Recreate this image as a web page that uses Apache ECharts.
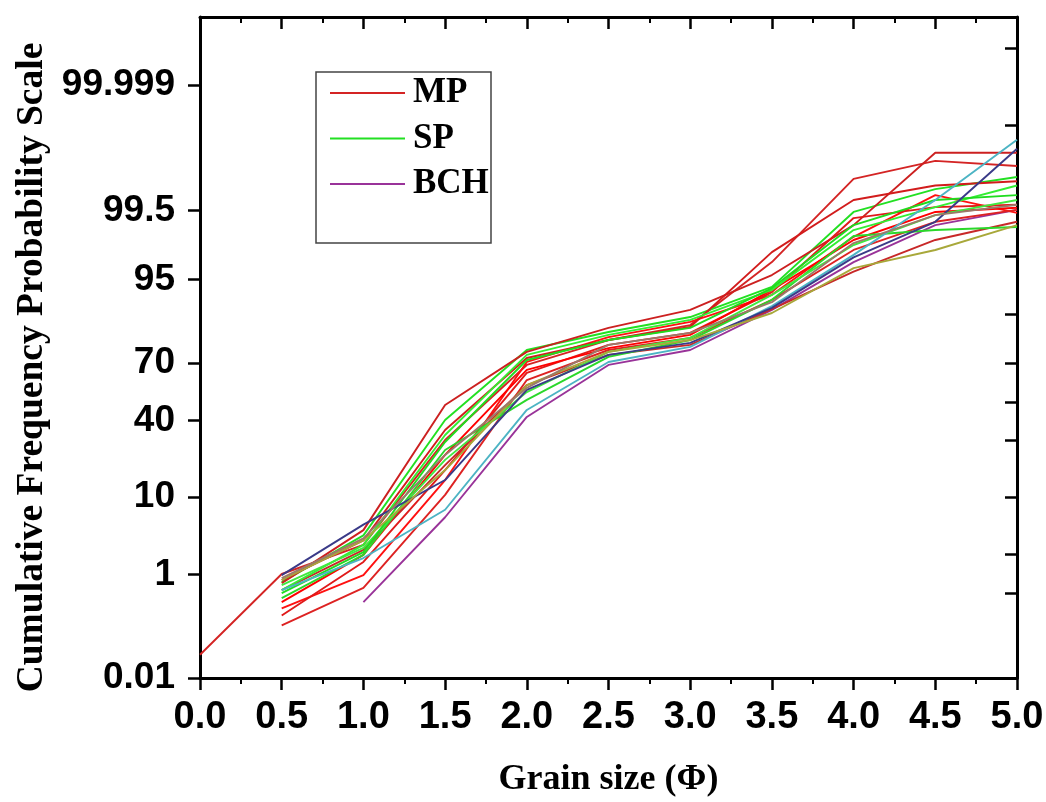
<!DOCTYPE html>
<html><head><meta charset="utf-8">
<script src="https://cdn.jsdelivr.net/npm/echarts@6/dist/echarts.min.js"></script>
<style>html,body{margin:0;padding:0;background:#fff}#chart{width:1046px;height:802px}</style>
</head><body><div id="chart"></div>
<script>
// ---------- data (cumulative percent) ----------
const phi = [0.0, 0.5, 1.0, 1.5, 2.0, 2.5, 3.0, 3.5, 4.0, 4.5, 5.0];

const mp1 = [0.033, 1.02, 2.7, 30.3, 69.0, 79.7, 84.9, 97.0, 99.865, 99.941, 99.925];
const mp2 = [null, 0.73, 4.2, 48.3, 74.9, 84.0, 89.2, 95.6, 99.13, 99.960, 99.960];
const mp3 = [null, 0.27, 0.98, 14.6, 70.4, 80.8, 85.9, 92.5, 98.68, 99.73, 99.45];
const mp4 = [null, 0.20, 1.55, 17.9, 65.1, 77.8, 82.3, 93.0, 99.33, 99.56, 99.60];
const mp5 = [null, 0.13, 0.61, 10.5, 61.5, 75.7, 80.5, 91.5, 97.95, 99.23, 99.51];
const mp6 = [null, 0.35, 1.96, 23.7, 66.6, 76.5, 81.6, 93.4, 98.53, 99.47, 99.55];
const mp7 = [null, 0.56, 2.3, 19.7, 58.9, 73.6, 77.8, 89.4, 96.0, 98.53, 99.23];
const mp8 = [null, 0.82, 3.1, 35.2, 72.2, 79.7, 84.3, 97.8, 99.67, 99.82, 99.85];

const sp1 = [null, 0.76, 3.6, 40.3, 75.7, 82.6, 87.3, 93.9, 99.47, 99.79, 99.876];
const sp2 = [null, 0.56, 2.7, 32.7, 73.6, 81.6, 86.5, 93.4, 98.96, 99.56, 99.82];
const sp3 = [null, 0.41, 1.96, 25.8, 51.0, 72.7, 79.7, 91.5, 98.72, 98.96, 99.07];
const sp4 = [null, 0.68, 2.45, 21.7, 55.2, 74.9, 80.5, 92.5, 98.26, 99.40, 99.67];
const sp5 = [null, 0.50, 2.15, 29.4, 71.3, 79.7, 84.0, 93.7, 99.13, 99.67, 99.73];

const bch1 = [null, null, 0.35, 6.0, 41.9, 69.0, 75.7, 89.2, 97.0, 99.13, 99.51];
const bch2 = [null, 0.56, 1.77, 7.3, 45.6, 70.4, 77.0, 90.1, 97.6, 99.67, 99.979];
const bch3 = [null, 0.98, 4.9, 14.6, 56.3, 73.6, 78.6, 89.7, 97.4, 99.23, 99.967];
const bch4 = [null, 0.82, 3.1, 17.9, 58.9, 74.9, 79.7, 88.4, 96.4, 97.95, 99.13];
const bch5 = [null, 0.88, 3.3, 23.7, 57.4, 77.8, 82.3, 91.0, 98.37, 99.40, 99.60];

const leftTickLabels = ['0.01', '1', '10', '40', '70', '95', '99.5', '99.999'];
const leftTickValues = [0.01, 1, 10, 40, 70, 95, 99.5, 99.999];
const rightTickValues = [0.5, 2, 10, 30, 50, 70, 88, 97.5, 99.99, 99.9999];
const xTickLabels = ['0.0','0.5','1.0','1.5','2.0','2.5','3.0','3.5','4.0','4.5','5.0'];
const legendNames = ['MP', 'SP', 'BCH'];

// ---------- probability scale (normal quantile) ----------
function probit(p){
  const a=[-3.969683028665376e+01,2.209460984245205e+02,-2.759285104469687e+02,1.383577518672690e+02,-3.066479806614716e+01,2.506628277459239e+00];
  const b=[-5.447609879822406e+01,1.615858368580409e+02,-1.556989798598866e+02,6.680131188771972e+01,-1.328068155288572e+01];
  const c=[-7.784894002430293e-03,-3.223964580411365e-01,-2.400758277161838e+00,-2.549671010243726e+00,4.374664141464968e+00,2.938163982698783e+00];
  const d=[7.784695709041462e-03,3.224671290700398e-01,2.445134137142996e+00,3.754408661907416e+00];
  const pl=0.02425, ph=1-pl; let q,r;
  if(p<pl){q=Math.sqrt(-2*Math.log(p));return (((((c[0]*q+c[1])*q+c[2])*q+c[3])*q+c[4])*q+c[5])/((((d[0]*q+d[1])*q+d[2])*q+d[3])*q+1);}
  if(p<=ph){q=p-0.5;r=q*q;return (((((a[0]*r+a[1])*r+a[2])*r+a[3])*r+a[4])*r+a[5])*q/(((((b[0]*r+b[1])*r+b[2])*r+b[3])*r+b[4])*r+1);}
  q=Math.sqrt(-2*Math.log(1-p));return -(((((c[0]*q+c[1])*q+c[2])*q+c[3])*q+c[4])*q+c[5])/((((d[0]*q+d[1])*q+d[2])*q+d[3])*q+1);
}
const pz = v => (v == null ? null : probit(v / 100));

const Z_MIN = pz(0.01);
const Z_MAX = 5.18;
const leftZ = leftTickValues.map(pz);
const rightZ = rightTickValues.map(pz);

const seriesDefs = [
  {name:'MP', color:'#d42424', data:mp1},
  {name:'SP', color:'#22e022', data:sp1},
  {name:'BCH', color:'#993399', data:bch1},
  {name:'MP', color:'#cc2020', data:mp2},
  {name:'MP', color:'#ff1010', data:mp3},
  {name:'MP', color:'#e01a1a', data:mp4},
  {name:'MP', color:'#dd2222', data:mp5},
  {name:'MP', color:'#ff0000', data:mp6},
  {name:'MP', color:'#c82828', data:mp7},
  {name:'MP', color:'#d21c1c', data:mp8},
  {name:'SP', color:'#33ee33', data:sp2},
  {name:'SP', color:'#2ad82a', data:sp3},
  {name:'SP', color:'#40e840', data:sp4},
  {name:'SP', color:'#1fdc1f', data:sp5},
  {name:'BCH', color:'#4cb4c4', data:bch2},
  {name:'BCH', color:'#3a3a88', data:bch3},
  {name:'BCH', color:'#a8a83a', data:bch4},
  {name:'BCH', color:'#9a7a6a', data:bch5}
];

const series = seriesDefs.map(s => ({
  type: 'line',
  name: s.name,
  xAxisIndex: 0,
  yAxisIndex: 0,
  symbol: 'none',
  silent: true,
  itemStyle: {color: s.color},
  lineStyle: {color: s.color, width: 1.9},
  data: phi.map((x, i) => s.data[i] == null ? [x, null] : [x, pz(s.data[i])])
}));

const chart = echarts.init(document.getElementById('chart'));
const axisLineStyle = {color: '#000', width: 3};
chart.setOption({
  animation: false,
  backgroundColor: '#fff',
  grid: {left: 200, right: 29, top: 17, bottom: 124, containLabel: false, outerBoundsMode: 'none'},
  graphic: [{
    type: 'rect', shape: {x: 316, y: 72, width: 175, height: 171},
    style: {fill: 'none', stroke: '#444', lineWidth: 1.5}, silent: true
  }],
  legend: {
    data: legendNames, orient: 'vertical', left: 330, top: 75, padding: 0,
    icon: 'rect', itemWidth: 75, itemHeight: 2, itemGap: 9.5, selectedMode: false,
    textStyle: {fontFamily: 'Liberation Serif', fontWeight: 'bold', fontSize: 35, lineHeight: 36, color: '#000', padding: [0,0,0,3]}
  },
  xAxis: [{
    type: 'value', position: 'bottom', min: 0, max: 5, interval: 0.5,
    axisLine: {show: true, onZero: false, lineStyle: axisLineStyle},
    axisTick: {show: true, length: 12, lineStyle: {color: '#000', width: 2.5}},
    minorTick: {show: true, splitNumber: 2, length: 6, lineStyle: {color: '#000', width: 2}},
    splitLine: {show: false},
    axisLabel: {
      margin: 21, color: '#000', fontFamily: 'Liberation Sans', fontWeight: 'bold', fontSize: 38,
      formatter: v => xTickLabels[Math.round(v * 2)]
    },
    name: 'Grain size (Φ)', nameLocation: 'middle', nameGap: 84,
    nameTextStyle: {fontFamily: 'Liberation Serif', fontWeight: 'bold', fontSize: 36, color: '#000'}
  }, {
    type: 'value', position: 'top', min: 0, max: 5, interval: 0.5,
    axisLine: {show: true, onZero: false, lineStyle: axisLineStyle},
    axisTick: {show: true, inside: true, length: 12, lineStyle: {color: '#000', width: 2.5}},
    minorTick: {show: true, splitNumber: 2, length: 6, lineStyle: {color: '#000', width: 2}},
    splitLine: {show: false},
    axisLabel: {show: false}
  }],
  yAxis: [{
    type: 'value', position: 'left', min: Z_MIN, max: Z_MAX,
    axisLine: {show: true, onZero: false, lineStyle: axisLineStyle},
    axisTick: {show: true, customValues: leftZ, length: 12, lineStyle: {color: '#000', width: 2.5}},
    splitLine: {show: false},
    axisLabel: {
      customValues: leftZ, margin: 25, color: '#000',
      fontFamily: 'Liberation Sans', fontWeight: 'bold', fontSize: 37,
      formatter: v => {
        let best = 0;
        leftZ.forEach((z, i) => { if (Math.abs(z - v) < Math.abs(leftZ[best] - v)) best = i; });
        return leftTickLabels[best];
      }
    },
    name: 'Cumulative Frequency Probability Scale', nameLocation: 'middle', nameGap: 137,
    nameTextStyle: {fontFamily: 'Liberation Serif', fontWeight: 'bold', fontSize: 37.5, color: '#000', padding: [0, 40, 0, 0]}
  }, {
    type: 'value', position: 'right', min: Z_MIN, max: Z_MAX,
    axisLine: {show: true, onZero: false, lineStyle: axisLineStyle},
    axisTick: {show: true, inside: true, customValues: rightZ, length: 12, lineStyle: {color: '#000', width: 2.5}},
    splitLine: {show: false},
    axisLabel: {show: false}
  }],
  series: series
});
</script></body></html>
